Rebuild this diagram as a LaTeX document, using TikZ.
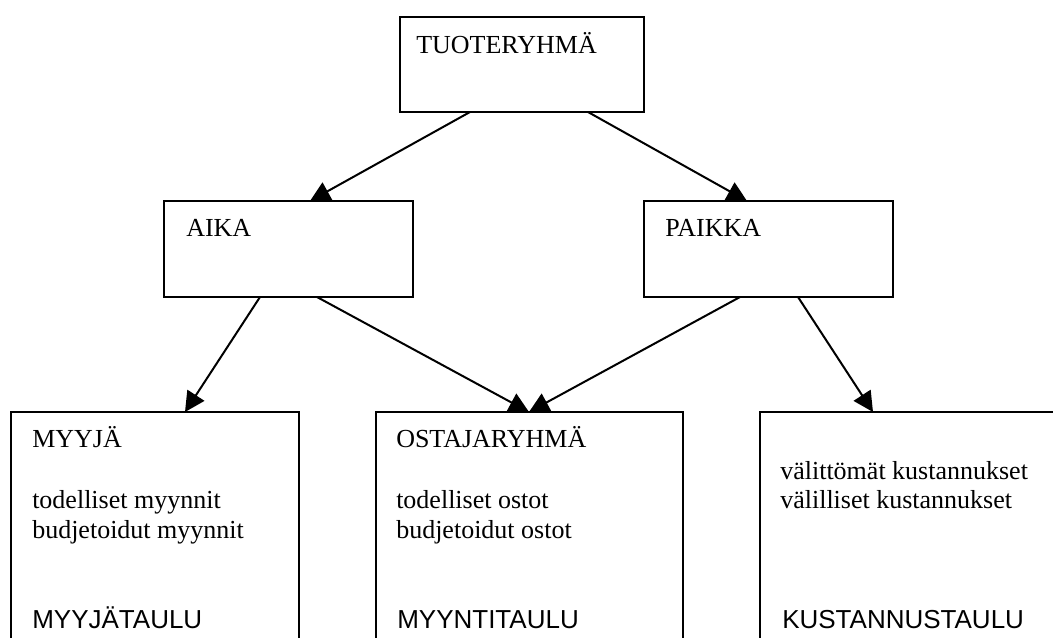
\documentclass[tikz,border=0pt]{standalone}
\usepackage{fontspec}
\setmainfont{Liberation Serif}
\newfontfamily\arialfont{Liberation Sans}
\usetikzlibrary{arrows.meta,calc}
\begin{document}
\begin{tikzpicture}[x=0.75pt,y=-0.75pt,
  box/.style={draw,line width=1.5pt,rectangle,inner sep=0pt,outer sep=0pt,anchor=north west},
  conn/.style={line width=1.5pt,-{Triangle[length=15pt,width=15pt]}},
  lbl/.style={anchor=base west,inner sep=0pt,font=\fontsize{19.5}{29.6}\selectfont},
  tbl/.style={anchor=base west,inner sep=0pt,font=\arialfont\fontsize{19.5}{29.6}\selectfont}]
\useasboundingbox (0,0) rectangle (1053,637);
\clip (0,0) rectangle (1053,637);
% boxes
\node[box,minimum width=183pt,minimum height=71.25pt] (t) at (400,17) {};
\node[box,minimum width=186.75pt,minimum height=72pt] (aika) at (164,201) {};
\node[box,minimum width=186.75pt,minimum height=72pt] (paikka) at (644,201) {};
\node[box,minimum width=216pt,minimum height=195pt] (myyja) at (11,412) {};
\node[box,minimum width=230.25pt,minimum height=195pt] (ostaja) at (376,412) {};
\node[box,minimum width=255pt,minimum height=195pt] (kust) at (760,412) {};
% labels
\node[lbl] (tl) at (416,53) {TUOTERYHMÄ};
\node[lbl] (al) at (186,236) {AIKA};
\node[lbl] (pl) at (665,236) {PAIKKA};
\node[lbl] (m1) at (32,447) {MYYJÄ};
\node[lbl] (m2) at (32,508) {todelliset myynnit};
\node[lbl] (m3) at (32,538) {budjetoidut myynnit};
\node[tbl] (m4) at (32,628) {MYYJÄTAULU};
\node[lbl] (o1) at (396,447) {OSTAJARYHMÄ};
\node[lbl] (o2) at (396,508) {todelliset ostot};
\node[lbl] (o3) at (396,538) {budjetoidut ostot};
\node[tbl] (o4) at (397,628) {MYYNTITAULU};
\node[lbl] (k1) at (780,479) {välittömät kustannukset};
\node[lbl] (k2) at (780,508) {välilliset kustannukset};
\node[tbl] (k3) at (782,628) {KUSTANNUSTAULU};
% connectors
\draw[conn] ($(t.south west)+(70,0)$) -- ($(aika.north west)+(146,0)$);
\draw[conn] ($(t.south west)+(188,0)$) -- ($(paikka.north west)+(103,0)$);
\draw[conn] ($(aika.south west)+(96,0)$) -- ($(myyja.north west)+(174,0)$);
\draw[conn] ($(aika.south west)+(153,0)$) -- ($(ostaja.north west)+(153,0)$);
\draw[conn] ($(paikka.south west)+(96,0)$) -- ($(ostaja.north west)+(153,0)$);
\draw[conn] ($(paikka.south west)+(154,0)$) -- ($(kust.north west)+(113,0)$);
\end{tikzpicture}
\end{document}
